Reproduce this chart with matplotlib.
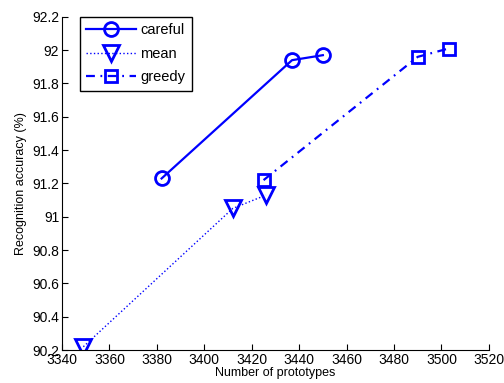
import matplotlib
matplotlib.use('Agg')
import matplotlib.pyplot as plt

careful_x = [3382, 3437, 3450]
careful_y = [91.23, 91.94, 91.97]
mean_x = [3349, 3412, 3426]
mean_y = [90.22, 91.05, 91.13]
greedy_x = [3425, 3490, 3503]
greedy_y = [91.22, 91.96, 92.01]

xticks = list(range(3340, 3521, 20))
yticks = [90.2, 90.4, 90.6, 90.8, 91, 91.2, 91.4, 91.6, 91.8, 92, 92.2]
yticklabels = ['90.2', '90.4', '90.6', '90.8', '91', '91.2', '91.4', '91.6', '91.8', '92', '92.2']

plt.rcParams['font.family'] = ['Liberation Sans', 'DejaVu Sans']

fig = plt.figure(figsize=(5.04, 3.83), dpi=100)
ax = fig.add_axes([0.123, 0.086, 0.847, 0.870])

blue = '#0000ff'
ax.plot(careful_x, careful_y, '-', color=blue, lw=1.6, marker='o', ms=10,
        mfc='none', mew=2, label='careful')
ax.plot(mean_x, mean_y, ':', color=blue, lw=1, marker='v', ms=11,
        mfc='none', mew=2, label='mean')
ax.plot(greedy_x, greedy_y, color=blue, lw=1.6, dashes=(4, 2.5, 0.8, 2.5),
        marker='s', ms=9, mfc='none', mew=2, label='greedy')

ax.set_xlim(3340, 3520)
ax.set_ylim(90.2, 92.2)
ax.set_xticks(xticks)
ax.set_yticks(yticks)
ax.set_yticklabels(yticklabels)
ax.tick_params(direction='in', labelsize=10, length=4, pad=2)
ax.spines['top'].set_visible(False)
ax.spines['right'].set_visible(False)
ax.set_xlabel('Number of prototypes', fontsize=9, labelpad=0)
ax.set_ylabel('Recognition accuracy (%)', fontsize=9)

leg = ax.legend(loc='upper left', bbox_to_anchor=(0.042, 1.0), fontsize=10.5,
                handlelength=3.4, handletextpad=0.3, fancybox=False,
                edgecolor='black', framealpha=1, borderpad=0.45,
                labelspacing=0.65, borderaxespad=0)
leg.get_frame().set_linewidth(1)

fig.savefig('out.png', dpi=100)
